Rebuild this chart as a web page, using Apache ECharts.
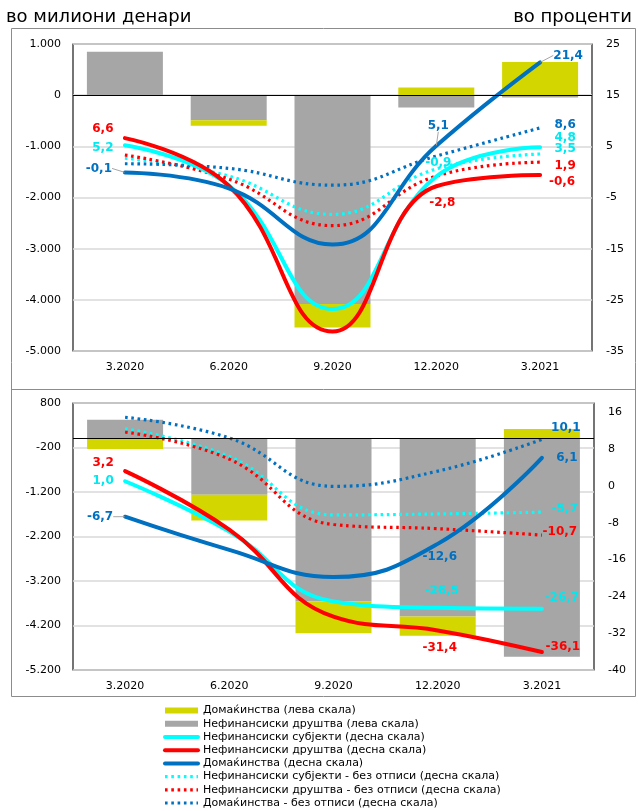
<!DOCTYPE html>
<html>
<head>
<meta charset="utf-8">
<script src="https://cdn.jsdelivr.net/npm/echarts@6/dist/echarts.min.js"></script>
<style>
  html, body { margin: 0; padding: 0; background: #fff; }
  #chart { width: 638px; height: 811px; }
</style>
</head>
<body>
<div id="chart"></div>
<script>
// Quarter labels shared by both panels
const categories = ['3.2020', '6.2020', '9.2020', '12.2020', '3.2021'];

// Upper panel: changes in millions of denars (left scale)
const hhBarTop  = [0, -110, -460, 150, 650];
const nfcBarTop = [850, -490, -4080, -240, -45];
// Upper panel: growth rates in percent (right scale)
const nfsTop    = [5.2, -2.6, -26.8, -0.9, 4.8];
const nfcTop    = [6.6, -2.7, -31.2, -2.8, -0.6];
const hhTop     = [-0.1, -3.2, -14.2, 5.1, 21.4];
const nfsTopEx  = [2.7, -0.8, -8.3, 0.6, 3.5];
const nfcTopEx  = [3.3, -1.4, -10.5, -0.8, 1.9];
const hhTopEx   = [1.6, 0.7, -2.6, 3.1, 8.6];

// Lower panel: changes in millions of denars (left scale)
const hhBarBot  = [-235, -577, -711, -428, 215];
const nfcBarBot = [425, -1262, -3663, -4000, -4900];
// Lower panel: growth rates in percent (right scale)
const nfsBot    = [1.0, -9.9, -25.1, -26.5, -26.7];
const nfcBot    = [3.2, -9.5, -28.4, -31.4, -36.1];
const hhBot     = [-6.7, -13.9, -19.8, -12.6, 6.1];
const nfsBotEx  = [12.4, 6.4, -6.3, -6.1, -5.7];
const nfcBotEx  = [11.7, 5.8, -8.4, -9.3, -10.7];
const hhBotEx   = [14.9, 10.4, -0.1, 3.2, 10.1];

// Axis tick settings
const leftTop  = { min: -5000, max: 1000, interval: 1000 };
const rightTop = { min: -35, max: 25, interval: 10 };
const leftBot  = { min: -5200, max: 800, interval: 1000 };
const rightBot = { min: -40, max: 18, interval: 8 };

const NAMES = {
  hhBar:  'Домаќинства (лева скала)',
  nfcBar: 'Нефинансиски друштва (лева скала)',
  nfs:    'Нефинансиски субјекти (десна скала)',
  nfc:    'Нефинансиски друштва (десна скала)',
  hh:     'Домаќинства (десна скала)',
  nfsEx:  'Нефинансиски субјекти - без отписи (десна скала)',
  nfcEx:  'Нефинансиски друштва - без отписи (десна скала)',
  hhEx:   'Домаќинства - без отписи (десна скала)'
};

const COLORS = {
  yellow: '#d4d600',
  gray: '#a6a6a6',
  cyan: '#00ffff',
  red: '#ff0000',
  blue: '#0070c0'
};
const LABEL_COLORS = { cyan: '#00e8f0', red: '#ff0000', blue: '#0070c0' };

const FONT = '"DejaVu Sans", Verdana, sans-serif';
const SOLID_W = 4;
const DOT_W = 3.2;
const DOT_DASH = [2.6, 3.7];

// Label placement (label centre relative to the point) by data index;
// a third entry of true draws a thin guide line back to the point.
const labelsTop = {
  nfs:   { 0: [-22, 3], 3: [2, -14], 4: [25, -9] },
  nfc:   { 0: [-22, -9], 3: [6, 17], 4: [22, 7] },
  hh:    { 0: [-26, -4, true], 3: [2, -20, true], 4: [28, -7, true] },
  nfsEx: { 4: [25, -5] },
  nfcEx: { 4: [25, 4] },
  hhEx:  { 4: [25, -3] }
};
const labelsBot = {
  nfs:   { 0: [-22, 0], 3: [4, -17], 4: [20, -11] },
  nfc:   { 0: [-22, -8], 3: [2, 17], 4: [21, -5] },
  hh:    { 0: [-25, 0, true], 3: [2, 13], 4: [25, 0] },
  nfsEx: { 4: [23, -3] },
  nfcEx: { 4: [18, -3] },
  hhEx:  { 4: [24, -11] }
};

const fmtPct = v => v.toFixed(1).replace('.', ',');
const fmtThousands = v => {
  const s = Math.abs(v).toString().replace(/\B(?=(\d{3})+(?!\d))/g, '.');
  return (v < 0 ? '-' : '') + s;
};

function barSeries(name, data, color, gridIdx, withZeroLine) {
  const s = {
    name, type: 'bar', stack: 'bars' + gridIdx,
    xAxisIndex: gridIdx, yAxisIndex: gridIdx * 2,
    data, barWidth: 76,
    itemStyle: { color },
    emphasis: { disabled: true },
    silent: true,
    z: 1
  };
  if (withZeroLine) {
    s.markLine = {
      silent: true, symbol: 'none', animation: false,
      label: { show: false },
      lineStyle: { color: '#000', width: 1.2, type: 'solid' },
      data: [{ yAxis: 0 }]
    };
  }
  return s;
}

function lineStyleFor(colorKey, dotted) {
  return dotted
    ? { color: COLORS[colorKey], width: DOT_W, type: DOT_DASH, cap: 'butt' }
    : { color: COLORS[colorKey], width: SOLID_W, cap: 'round' };
}

function lineSeries(key, data, colorKey, dotted, gridIdx, labelMap) {
  const lbl = labelMap[key] || {};
  const items = data.map((v, i) => {
    const item = { value: v };
    const spec = lbl[i];
    if (spec) {
      item.label = {
        show: true,
        position: 'inside',
        formatter: () => fmtPct(v),
        color: LABEL_COLORS[colorKey],
        fontFamily: FONT,
        fontWeight: 'bold',
        fontSize: 12,
        align: 'center',
        verticalAlign: 'middle'
      };
      if (spec[2]) {
        item.labelLine = { show: true, lineStyle: { color: '#a6a6a6', width: 1 } };
      }
    }
    return item;
  });
  return {
    name: NAMES[key], type: 'line',
    xAxisIndex: gridIdx, yAxisIndex: gridIdx * 2 + 1,
    data: items,
    smooth: 0.45,
    symbol: 'circle', symbolSize: 1, showSymbol: true,
    itemStyle: { color: 'rgba(0,0,0,0)' },
    lineStyle: lineStyleFor(colorKey, dotted),
    label: { show: false },
    labelLine: { show: false },
    labelLayout: (params) => {
      const spec = lbl[params.dataIndex];
      return spec ? { dx: spec[0], dy: spec[1] } : {};
    },
    emphasis: { disabled: true },
    silent: true,
    animation: false,
    z: dotted ? 3 : 4
  };
}

function panelSeries(gridIdx, bars, lines, labelMap) {
  return [
    barSeries(NAMES.nfcBar, bars.nfc, COLORS.gray, gridIdx, true),
    barSeries(NAMES.hhBar, bars.hh, COLORS.yellow, gridIdx, false),
    lineSeries('nfsEx', lines.nfsEx, 'cyan', true, gridIdx, labelMap),
    lineSeries('nfcEx', lines.nfcEx, 'red', true, gridIdx, labelMap),
    lineSeries('hhEx', lines.hhEx, 'blue', true, gridIdx, labelMap),
    lineSeries('nfs', lines.nfs, 'cyan', false, gridIdx, labelMap),
    lineSeries('nfc', lines.nfc, 'red', false, gridIdx, labelMap),
    lineSeries('hh', lines.hh, 'blue', false, gridIdx, labelMap)
  ];
}

const tickLabel = { color: '#000', fontFamily: FONT, fontSize: 11 };

function xAxis(gridIdx) {
  return {
    type: 'category', gridIndex: gridIdx, data: categories,
    boundaryGap: true,
    axisLine: { show: false }, axisTick: { show: false },
    axisLabel: Object.assign({ margin: 11 }, tickLabel),
    splitLine: { show: false }
  };
}

function yAxes(gridIdx, left, right) {
  return [
    {
      type: 'value', gridIndex: gridIdx, position: 'left',
      min: left.min, max: left.max, interval: left.interval,
      axisLine: { show: false }, axisTick: { show: false },
      axisLabel: Object.assign({ margin: 12, formatter: fmtThousands }, tickLabel),
      splitLine: { show: true, lineStyle: { color: '#d9d9d9', width: 1.5 } }
    },
    {
      type: 'value', gridIndex: gridIdx, position: 'right',
      min: right.min, max: right.max, interval: right.interval,
      axisLine: { show: false }, axisTick: { show: false },
      axisLabel: Object.assign({ margin: 14, showMaxLabel: gridIdx === 0 }, tickLabel),
      splitLine: { show: false }
    }
  ];
}

const legendLine = (key, colorKey, dotted) => ({
  name: NAMES[key],
  lineStyle: lineStyleFor(colorKey, dotted),
  itemStyle: { color: 'rgba(0,0,0,0)', borderWidth: 0 }
});

const chart = echarts.init(document.getElementById('chart'), null, { renderer: 'canvas' });

const option = {
  backgroundColor: '#fff',
  animation: false,
  textStyle: { fontFamily: FONT },
  title: [
    { text: 'во милиони денари', left: 1, top: 3,
      textStyle: { fontFamily: FONT, fontSize: 18, fontWeight: 'normal', color: '#000' } },
    { text: 'во проценти', right: 1, top: 3,
      textStyle: { fontFamily: FONT, fontSize: 18, fontWeight: 'normal', color: '#000' } }
  ],
  graphic: [
    { type: 'rect', shape: { x: 11.5, y: 28.5, width: 624, height: 668 },
      style: { fill: 'none', stroke: '#8c8c8c', lineWidth: 1 }, silent: true },
    { type: 'line', shape: { x1: 11.5, y1: 389.5, x2: 635.5, y2: 389.5 },
      style: { stroke: '#8c8c8c', lineWidth: 1 }, silent: true }
  ],
  grid: [
    { left: 73, top: 44, width: 519, height: 307, show: true,
      borderColor: '#1a1a1a', borderWidth: 1.2, backgroundColor: 'transparent' },
    { left: 73, top: 403, width: 521, height: 267, show: true,
      borderColor: '#1a1a1a', borderWidth: 1.2, backgroundColor: 'transparent' }
  ],
  xAxis: [xAxis(0), xAxis(1)],
  yAxis: [...yAxes(0, leftTop, rightTop), ...yAxes(1, leftBot, rightBot)],
  legend: {
    orient: 'vertical', left: 163, top: 704, height: 107, padding: 0,
    itemWidth: 33, itemHeight: 6, itemGap: 0,
    selectedMode: false,
    textStyle: { fontFamily: FONT, fontSize: 11, color: '#000', lineHeight: 13.2 },
    data: [
      { name: NAMES.hhBar, icon: 'rect' },
      { name: NAMES.nfcBar, icon: 'rect' },
      legendLine('nfs', 'cyan', false),
      legendLine('nfc', 'red', false),
      legendLine('hh', 'blue', false),
      legendLine('nfsEx', 'cyan', true),
      legendLine('nfcEx', 'red', true),
      legendLine('hhEx', 'blue', true)
    ]
  },
  series: [
    ...panelSeries(0, { hh: hhBarTop, nfc: nfcBarTop },
      { nfs: nfsTop, nfc: nfcTop, hh: hhTop, nfsEx: nfsTopEx, nfcEx: nfcTopEx, hhEx: hhTopEx }, labelsTop),
    ...panelSeries(1, { hh: hhBarBot, nfc: nfcBarBot },
      { nfs: nfsBot, nfc: nfcBot, hh: hhBot, nfsEx: nfsBotEx, nfcEx: nfcBotEx, hhEx: hhBotEx }, labelsBot)
  ]
};

chart.setOption(option);
</script>
</body>
</html>
